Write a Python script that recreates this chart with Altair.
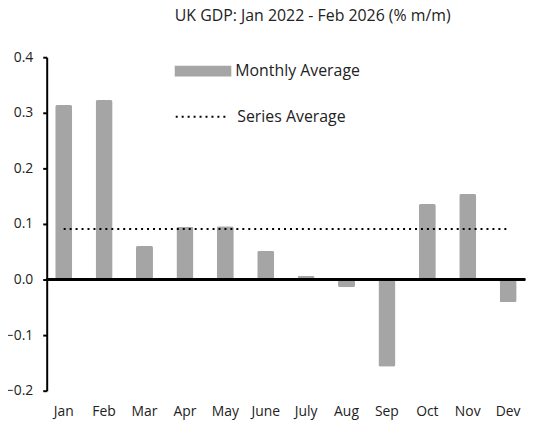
import altair as alt
import pandas as pd

months = ["Jan", "Feb", "Mar", "Apr", "May", "June", "July", "Aug", "Sep", "Oct", "Nov", "Dev"]
monthly_avg = [0.314, 0.323, 0.061, 0.095, 0.096, 0.052, 0.007, -0.014, -0.157, 0.136, 0.154, -0.041]
series_avg = 0.091
y_ticks = [-0.2, -0.1, 0.0, 0.1, 0.2, 0.3, 0.4]

df = pd.DataFrame({"month": months, "value": monthly_avg})

FONT = "Open Sans"
GREY = "#a5a5a5"
TXT = "#222222"

x_enc = alt.X("month:N", sort=months, title=None,
              scale=alt.Scale(paddingInner=0.58, paddingOuter=0.21),
              axis=alt.Axis(domain=False, ticks=False, labelAngle=0, labelPadding=14,
                            labelFontSize=14, labelColor=TXT, labelFont=FONT))
y_scale = alt.Scale(domain=[-0.2, 0.4], nice=False)

bars = alt.Chart(df).transform_calculate(s="'Monthly Average'").mark_bar(cornerRadius=2).encode(
    x=x_enc,
    y=alt.Y("value:Q", scale=y_scale, title=None,
            axis=alt.Axis(values=y_ticks, format=".1f", grid=False, domainColor="black",
                          domainWidth=2, tickColor="black", tickWidth=2, tickSize=4,
                          labelPadding=10, labelFontSize=14, labelColor=TXT,
                          labelFont=FONT)),
    color=alt.Color("s:N", scale=alt.Scale(domain=["Monthly Average"], range=[GREY]),
                    legend=alt.Legend(title=None, orient="none", legendX=129, legendY=-14.5,
                                      padding=0, symbolType="M-1,-0.19H1V0.19H-1Z",
                                      symbolSize=3249, symbolStrokeWidth=0, labelOffset=4,
                                      labelFontSize=16, labelFont=FONT, labelColor=TXT)),
)

avg_line = alt.Chart(df).transform_calculate(d="'Series Average'").mark_line(color="black", strokeWidth=2).encode(
    x=alt.X("month:N", sort=months),
    y=alt.datum(series_avg),
    strokeDash=alt.StrokeDash("d:N",
                              scale=alt.Scale(domain=["Series Average"], range=[[2, 4]]),
                              legend=alt.Legend(title=None, orient="none", legendX=129, legendY=33,
                                                padding=0, symbolType="stroke", symbolSize=2704,
                                                symbolStrokeColor="black", symbolStrokeWidth=2,
                                                labelOffset=9, labelFontSize=16, labelFont=FONT,
                                                labelColor=TXT)),
)

zero = alt.Chart(df).mark_rule(color="black", strokeWidth=2).encode(y=alt.datum(0))

chart = alt.layer(bars, avg_line, zero).resolve_legend(color="independent", strokeDash="independent").properties(
    width=482, height=336,
    autosize=alt.AutoSizeParams(type="none"),
    padding={"left": 39, "top": 48, "right": 12, "bottom": 35},
    title=alt.TitleParams("UK GDP: Jan 2022 - Feb 2026 (% m/m)", fontSize=16, fontWeight="normal",
                          font=FONT, color=TXT, anchor="middle", dx=27, offset=19),
).configure_view(stroke=None)

chart.save("out.html", embed_options={"renderer": "svg", "actions": False})
